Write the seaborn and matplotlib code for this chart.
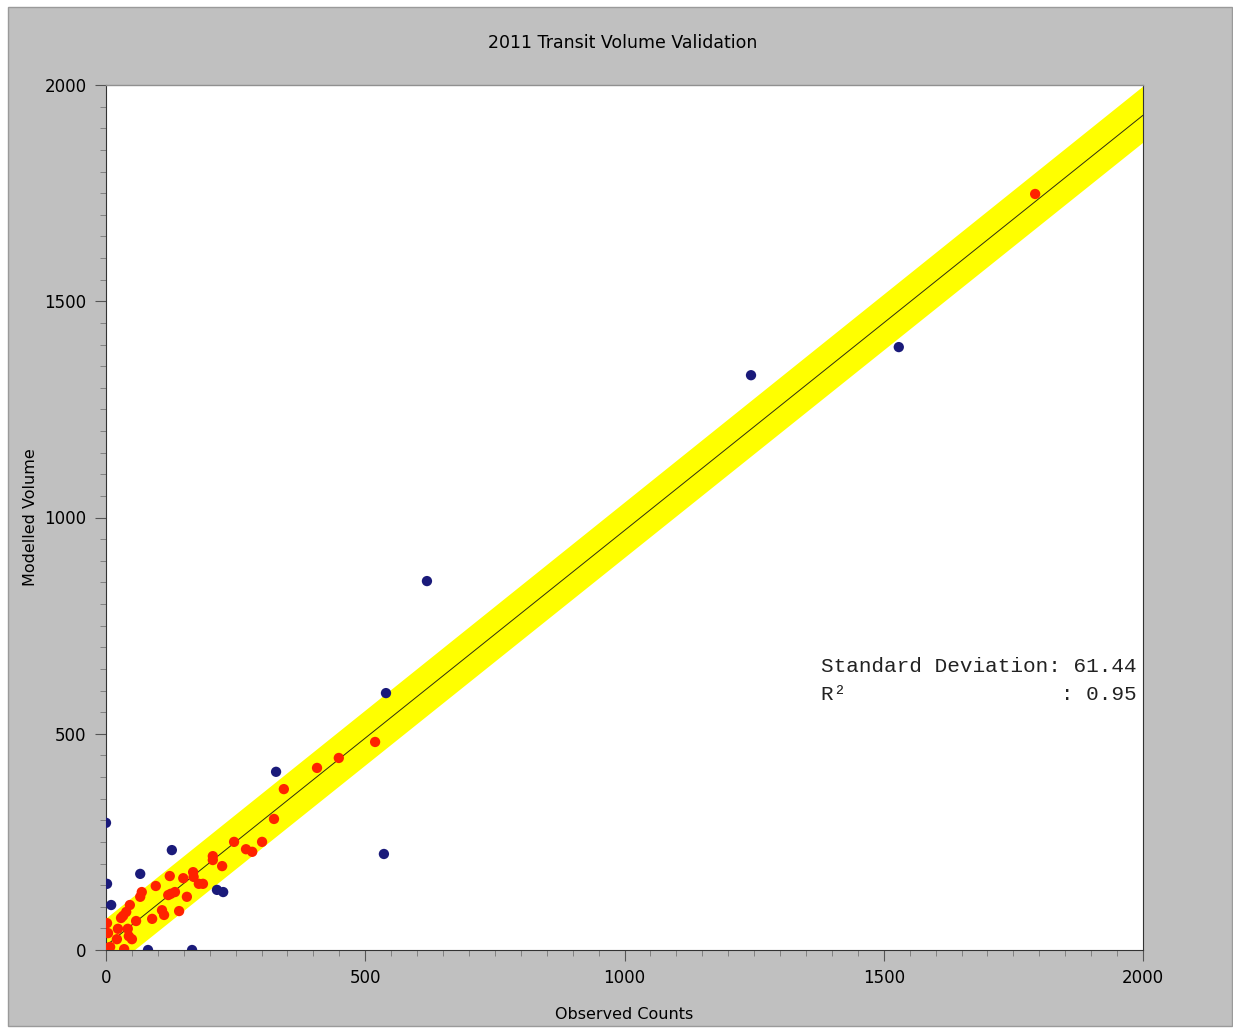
import matplotlib
matplotlib.use("Agg")
import matplotlib.pyplot as plt
import seaborn as sns
import pandas as pd
from matplotlib.patches import Rectangle
from matplotlib.ticker import MultipleLocator

# Points inside the +/- 1 SD band (observed, modelled)
red_obs = [1792, 519, 449, 407, 343, 324, 247, 270, 282, 301, 206, 206, 224, 168, 169,
           123, 149, 179, 187, 96, 133, 125, 120, 69, 66, 156, 46, 108, 112, 141,
           39, 33, 29, 89, 58, 2, 23, 42, 4, 44, 50, 21, 8, 4, 35]
red_mod = [1748, 481, 444, 421, 372, 303, 250, 233, 227, 250, 217, 208, 194, 180, 169,
           171, 166, 153, 153, 148, 134, 130, 127, 134, 123, 123, 104, 92, 81, 90,
           88, 79, 74, 72, 67, 62, 49, 49, 39, 32, 25, 25, 7, 5, 2]

# Points outside the band
blue_obs = [0, 2, 10, 66, 127, 81, 166, 214, 226, 328, 536, 540, 619, 1244, 1529]
blue_mod = [294, 153, 104, 176, 231, 0, 0, 139, 134, 412, 222, 594, 853, 1329, 1394]

# Fitted line and band edges
fit_x = [0, 2000]
fit_y = [10, 1930]
band_low = [-52, 1868]
band_high = [74, 1998]

sd_text = "Standard Deviation: 61.44"
r2_text = "R\u00b2                 : 0.95"

df = pd.DataFrame({
    "obs": red_obs + blue_obs,
    "mod": red_mod + blue_mod,
    "group": ["in"] * len(red_obs) + ["out"] * len(blue_obs),
})

sns.set_style("white")
plt.rcParams['font.family'] = ['DejaVu Sans']
plt.rcParams['text.color'] = 'black'
plt.rcParams['axes.labelcolor'] = 'black'
plt.rcParams['xtick.color'] = 'black'
plt.rcParams['ytick.color'] = 'black'

fig = plt.figure(figsize=(12.33, 10.28), dpi=100, facecolor="white")
fig.add_artist(Rectangle((8 / 1233, 2 / 1028), 1224 / 1233, 1019 / 1028,
                         transform=fig.transFigure, facecolor="#c0c0c0",
                         edgecolor="#9a9a9a", lw=1, zorder=0))

ax = fig.add_axes([106 / 1233, 1 - 950 / 1028, 1037 / 1233, 865 / 1028])
ax.set_facecolor("white")

ax.fill_between(fit_x, band_low, band_high, color="#ffff00", lw=0, zorder=1)
sns.lineplot(x=fit_x, y=fit_y, ax=ax, color="#2e2e10", lw=0.7, zorder=2)

sns.scatterplot(data=df, x="obs", y="mod", hue="group", ax=ax,
                palette={"in": "#ff2200", "out": "#1a1a7a"},
                s=55, linewidth=0, legend=False, zorder=3)

ax.set_xlim(0, 2000)
ax.set_ylim(0, 2000)
ax.xaxis.set_major_locator(MultipleLocator(500))
ax.yaxis.set_major_locator(MultipleLocator(500))
ax.xaxis.set_minor_locator(MultipleLocator(50))
ax.yaxis.set_minor_locator(MultipleLocator(50))
ax.tick_params(which="major", length=8, width=0.8, color="#555555",
               labelsize=12, labelcolor="black", pad=6, bottom=True, left=True)
ax.tick_params(which="minor", length=4, width=0.6, color="#777777",
               bottom=True, left=True)

for side in ["left", "bottom", "right"]:
    ax.spines[side].set_color("#333333")
    ax.spines[side].set_linewidth(0.8)
ax.spines["top"].set_color("#909090")
ax.spines["top"].set_linewidth(1.0)

ax.set_xlabel("Observed Counts", fontsize=11.5)
ax.set_ylabel("Modelled Volume", fontsize=11.5)
ax.xaxis.set_label_coords(0.5, -0.066)
ax.yaxis.set_label_coords(-0.066, 0.5)

fig.text(623 / 1233, 1 - 43 / 1028, "2011 Transit Volume Validation",
         fontsize=12.5, ha="center", va="center")

ax.text(821 / 1233, 1 - 666 / 1028, sd_text, transform=fig.transFigure,
        family="Liberation Mono", fontsize=15.1, va="center", ha="left",
        color="#222222")
ax.text(821 / 1233, 1 - 694 / 1028, r2_text, transform=fig.transFigure,
        family="Liberation Mono", fontsize=15.1, va="center", ha="left",
        color="#222222")

fig.savefig("out.png", dpi=100, facecolor="white")
